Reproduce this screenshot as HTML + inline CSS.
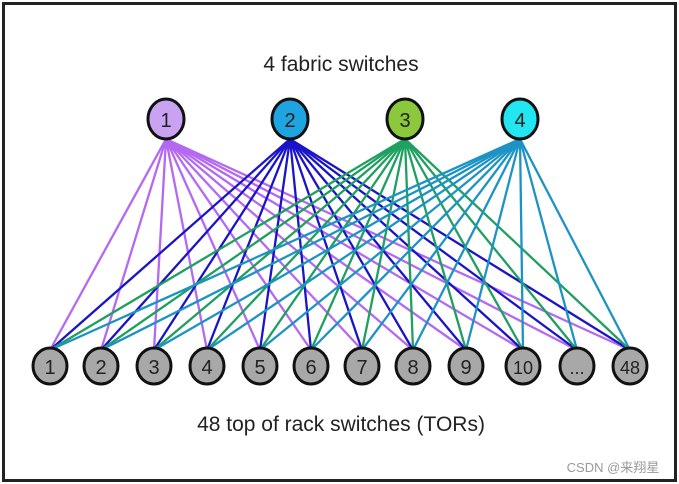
<!DOCTYPE html>
<html><head><meta charset="utf-8"><style>
html,body{margin:0;padding:0;background:#fff;}
svg{display:block;}
</style></head><body>
<svg id="s" width="679" height="484" xmlns="http://www.w3.org/2000/svg">
<rect x="0" y="0" width="679" height="484" fill="#fff"/>
<rect x="3.5" y="3.5" width="672" height="477" fill="none" stroke="#222" stroke-width="3"/>
<text x="341" y="71" font-family="Liberation Sans, sans-serif" font-size="21" fill="#222" text-anchor="middle">4 fabric switches</text>
<text x="341" y="431" font-family="Liberation Sans, sans-serif" font-size="21" fill="#222" text-anchor="middle">48 top of rack switches (TORs)</text>
<text x="613" y="472" font-family="Liberation Sans, 'Noto Sans CJK SC', sans-serif" font-size="13" fill="#999" text-anchor="middle">CSDN @来翔星</text>
<g id="lines"></g>
<g id="nodes"></g>
</svg>
<script>
var ns="http://www.w3.org/2000/svg";
var tops=[[166,"#b469f2","#c9a2f2","1"],[290,"#1a14c8","#1ea4e0","2"],[405,"#1fa060","#8cc83c","3"],[520,"#1c93c4","#22e6f2","4"]];
var bx=[50,101,154,207,260,311,362,413,466,523,577,630];
var bl=["1","2","3","4","5","6","7","8","9","10","...","48"];
var L=document.getElementById("lines"),N=document.getElementById("nodes");
function el(t,a,p){var e=document.createElementNS(ns,t);for(var k in a)e.setAttribute(k,a[k]);p.appendChild(e);return e;}
tops.forEach(function(t){bx.forEach(function(x){el("line",{x1:t[0],y1:139,x2:x,y2:350,stroke:t[1],"stroke-width":2.3},L);});});
tops.forEach(function(t){el("ellipse",{cx:t[0],cy:119,rx:18,ry:20,fill:t[2],stroke:"#111","stroke-width":3},N);
var tx=el("text",{x:t[0],y:127,"text-anchor":"middle","font-family":"Liberation Sans, sans-serif","font-size":20,fill:"#222"},N);tx.textContent=t[3];});
bx.forEach(function(x,i){el("ellipse",{cx:x,cy:366,rx:17,ry:18,fill:"#a8a8a8",stroke:"#111","stroke-width":3},N);
var tx=el("text",{x:x,y:374,"text-anchor":"middle","font-family":"Liberation Sans, sans-serif","font-size":bl[i].length>1?18:20,fill:"#222"},N);tx.textContent=bl[i];});
</script>
</body></html>
